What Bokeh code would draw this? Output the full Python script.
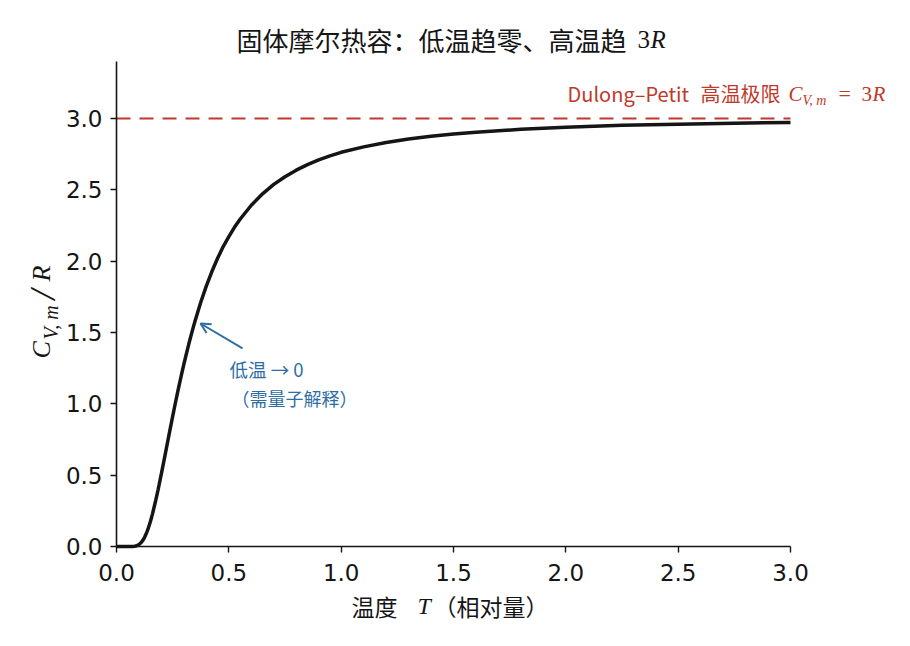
import math
from bokeh.plotting import figure
from bokeh.models import Label, Arrow, OpenHead, Range1d, FixedTicker
from bokeh.embed import file_html
from bokeh.resources import INLINE

# data (heat capacity curve C_V,m / R versus relative T)
T_vals = [0.0, 0.05, 0.07, 0.08, 0.09, 0.10, 0.11, 0.12, 0.125, 0.135, 0.14, 0.15, 0.16,
          0.175, 0.185, 0.19, 0.20, 0.21, 0.225, 0.24, 0.25, 0.26, 0.275, 0.29, 0.30,
          0.31, 0.325, 0.34, 0.35, 0.375, 0.40, 0.425, 0.45, 0.475, 0.50, 0.525, 0.55,
          0.60, 0.65, 0.70, 0.75, 0.80, 0.85, 0.90, 0.95, 1.00, 1.10, 1.20, 1.30, 1.40,
          1.50, 1.60, 1.70, 1.80, 1.90, 2.00, 2.25, 2.50, 2.75, 3.00]
C_vals = [0.0, 0.0, 0.0004, 0.002, 0.0055, 0.014, 0.028, 0.050, 0.0645, 0.100, 0.121, 0.170,
          0.227, 0.326, 0.3975, 0.435, 0.512, 0.592, 0.712, 0.833, 0.912, 0.990, 1.103,
          1.210, 1.279, 1.344, 1.439, 1.527, 1.583, 1.712, 1.827, 1.929, 2.020, 2.102,
          2.172, 2.237, 2.294, 2.392, 2.472, 2.538, 2.592, 2.638, 2.677, 2.710, 2.738,
          2.763, 2.801, 2.832, 2.856, 2.876, 2.891, 2.904, 2.914, 2.924, 2.932, 2.938,
          2.952, 2.960, 2.967, 2.972]
limit_value = 3.0
x_min, x_max = 0.0, 3.0
y_min, y_max = 0.0, 3.4
x_ticks = [0.0, 0.5, 1.0, 1.5, 2.0, 2.5, 3.0]
y_ticks = [0.0, 0.5, 1.0, 1.5, 2.0, 2.5, 3.0]
arrow_tip = (0.374, 1.563)
arrow_tail = (0.561, 1.388)

FONT = "Noto Sans CJK SC"
TICKFONT = "DejaVu Sans"
MATH = "Liberation Serif"
RED = "#c0392b"
BLUE = "#2e6ea4"
INK = "#151515"

W, H = 910, 646
# axes box in page pixels: x 0..3 -> 116..790, y 0..3 -> 546..118
PX0, PX1, PY0, PY3 = 116, 790, 546, 118
kx = (PX1 - PX0) / (x_max - x_min)
ky = (PY0 - PY3) / 3.0
xr = Range1d(x_min - PX0 / kx, x_max + (W - PX1) / kx)
yr = Range1d(y_min - (H - PY0) / ky, y_min + PY0 / ky)

p = figure(width=W, height=H, output_backend="svg", toolbar_location=None,
           x_range=xr, y_range=yr,
           min_border_left=0, min_border_right=0, min_border_top=0,
           min_border_bottom=0)
p.outline_line_color = None
p.grid.grid_line_color = None
p.background_fill_color = "white"
p.border_fill_color = "white"

p.xaxis.fixed_location = y_min
p.yaxis.fixed_location = x_min
p.xaxis.bounds = (x_min, x_max)
p.yaxis.bounds = (y_min, y_max)

for ax in (p.xaxis, p.yaxis):
    ax.axis_line_width = 1.6
    ax.axis_line_color = INK
    ax.major_tick_line_width = 1.4
    ax.major_tick_line_color = INK
    ax.major_tick_out = 6
    ax.major_tick_in = 0
    ax.minor_tick_line_color = None
    ax.major_label_text_font = TICKFONT
    ax.major_label_text_font_size = "23px"
    ax.major_label_text_color = INK
p.xaxis.ticker = FixedTicker(ticks=x_ticks)
p.yaxis.ticker = FixedTicker(ticks=y_ticks)
p.xaxis.major_label_overrides = {t: f"{t:.1f}" for t in x_ticks}
p.yaxis.major_label_overrides = {t: f"{t:.1f}" for t in y_ticks}
p.xaxis.major_label_standoff = 11
p.yaxis.major_label_standoff = 8

# dashed high-temperature limit
p.line([x_min, x_max], [limit_value, limit_value], line_color=RED, line_width=2,
       line_dash="14 9")

# curve
p.line(T_vals, C_vals, line_color=INK, line_width=3.5)


def lab(px, py, text, font=FONT, size=18, color=INK, style="normal", angle=0.0):
    p.add_layout(Label(x=px, y=H - py, x_units="screen", y_units="screen",
                       text=text, text_font=font, text_font_size=f"{size}px",
                       text_font_style=style, text_color=color,
                       text_baseline="middle", text_align="left", angle=angle))


# arrow annotation
p.add_layout(Arrow(end=OpenHead(size=10, line_color=BLUE, line_width=2),
                   x_start=arrow_tail[0], y_start=arrow_tail[1],
                   x_end=arrow_tip[0], y_end=arrow_tip[1],
                   line_color=BLUE, line_width=2))
lab(229, 368, "低温 → 0", size=18.5, color=BLUE)
lab(231, 397, "（需量子解释）", size=18, color=BLUE)

# Dulong-Petit label
lab(567, 93, "Dulong–Petit", size=20, color=RED)
lab(700, 93, "高温极限", size=20, color=RED)
lab(788, 93, "C", font=MATH, size=21, color=RED, style="italic")
lab(802, 100, "V, m", font=MATH, size=14, color=RED, style="italic")
lab(838, 93, "=", font=MATH, size=22, color=RED)
lab(861, 93, "3", font=MATH, size=21, color=RED)
lab(872, 93, "R", font=MATH, size=21, color=RED, style="italic")

# title
lab(236, 39, "固体摩尔热容：低温趋零、高温趋", size=26)
lab(637, 39, "3", font=MATH, size=25)
lab(650, 39, "R", font=MATH, size=25, style="italic")

# x axis label
lab(351, 605, "温度", size=23)
lab(417, 605, "T", font=MATH, size=24, style="italic")
lab(433, 605, "（相对量）", size=23)

# y axis label (rotated)
ang = math.pi / 2
lab(41, 358, "C", font=MATH, size=26, style="italic", angle=ang)
lab(50, 339, "V, m", font=MATH, size=20, style="italic", angle=ang)
lab(42, 299, "/", font=MATH, size=36, style="italic", angle=ang)
lab(41, 281, "R", font=MATH, size=26, style="italic", angle=ang)

open("out.html", "w").write(file_html(p, INLINE))
